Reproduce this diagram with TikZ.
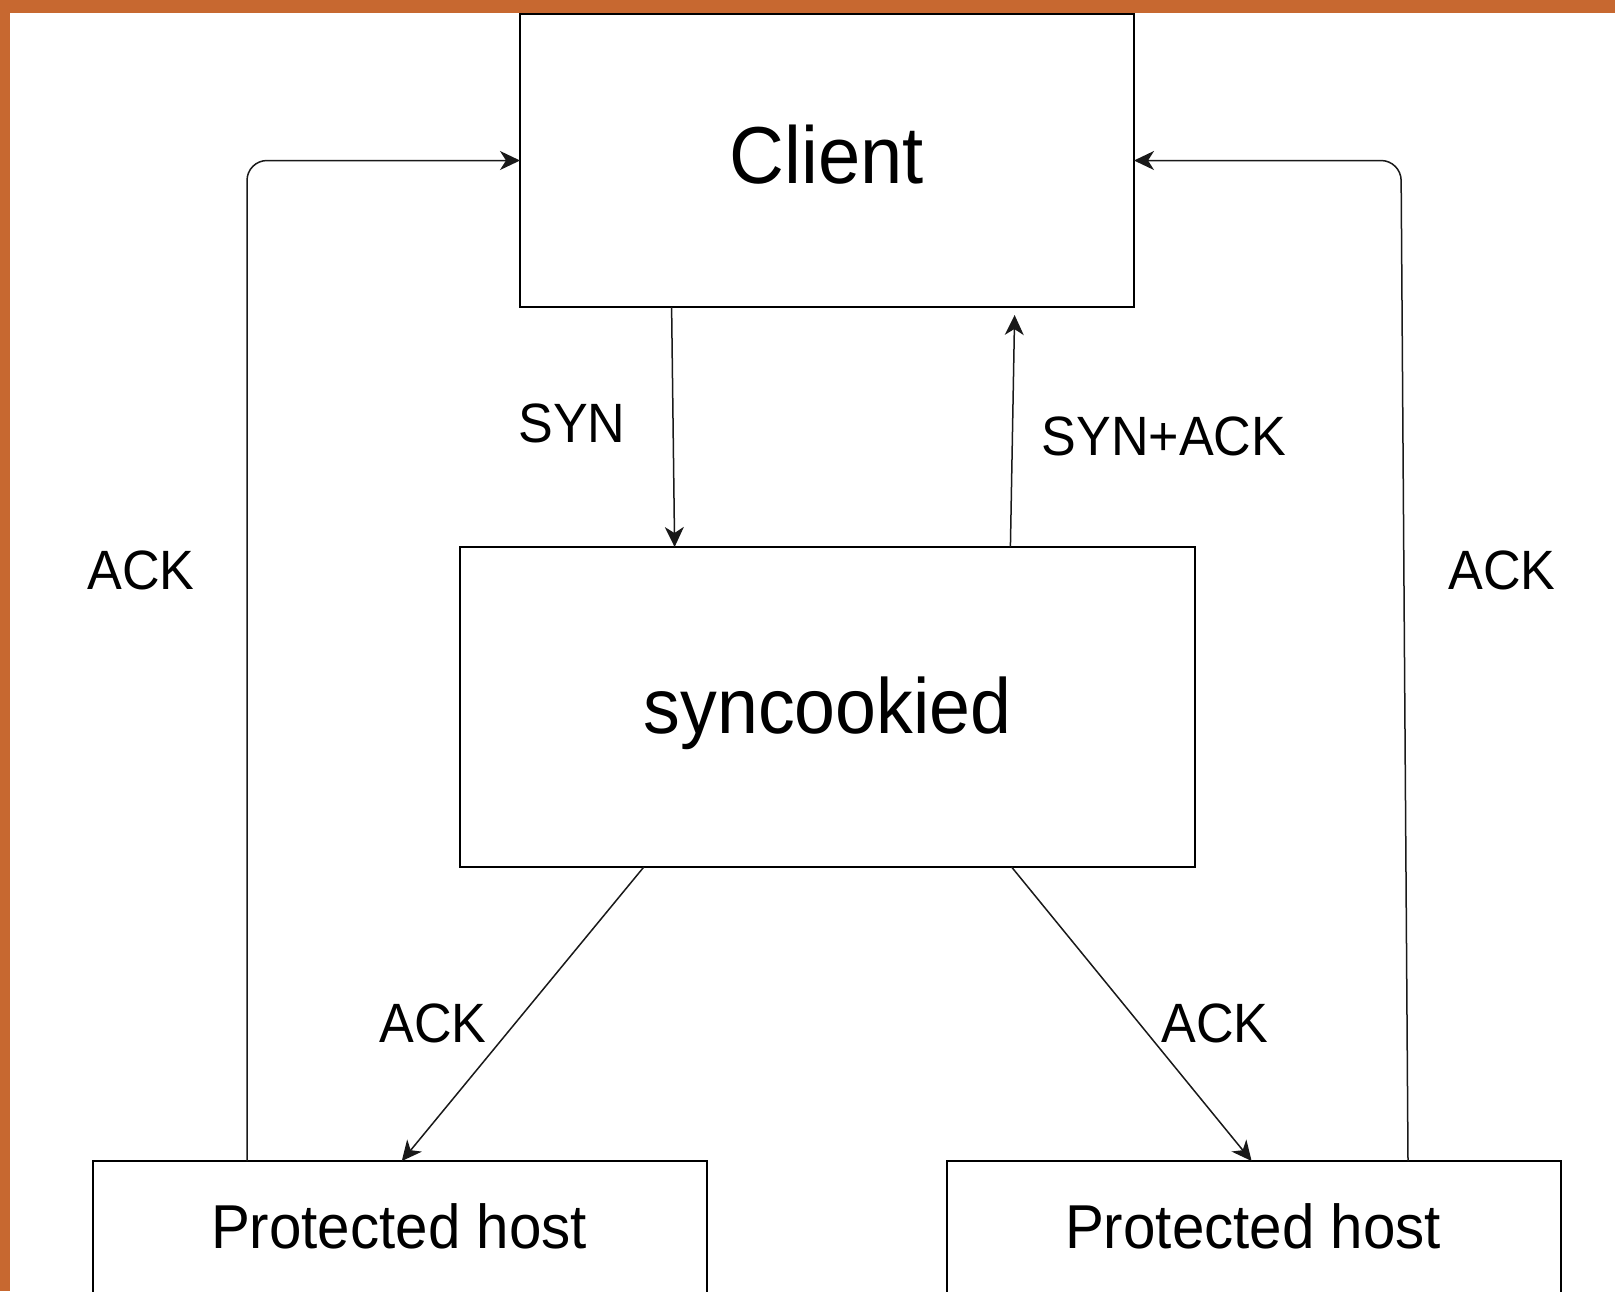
\documentclass[tikz,border=0pt]{standalone}
\usepackage{fontspec}
\setmainfont{Liberation Sans}[FakeStretch=0.94]
\usetikzlibrary{arrows.meta,calc}
\definecolor{frameorange}{RGB}{199,104,48}
\begin{document}
\begin{tikzpicture}[x=0.5pt,y=-0.5pt,
  box/.style={draw=black,line width=0.85pt,fill=white,inner sep=0pt,outer sep=0pt},
  arr/.style={draw=black!90,line width=0.75pt,-{Stealth[length=10pt,width=9.5pt,inset=3pt]}},
  lbl/.style={inner sep=0pt,font=\fontsize{27.7pt}{32pt}\selectfont}]
\useasboundingbox (0,0) rectangle (1615,1291);
\clip (0,0) rectangle (1615,1291);
\fill[white] (0,0) rectangle (1615,1291);
% frame strips
\fill[frameorange] (0,0) rectangle (1615,13);
\fill[frameorange] (0,0) rectangle (10,1291);

% boxes
\node[box,minimum width=307pt,minimum height=146.5pt,
      font=\fontsize{40.4pt}{48pt}\selectfont,text height=29pt,text depth=6pt]
      (client) at (827,160.5) {Client};
\node[box,minimum width=367.5pt,minimum height=160pt,
      font=\fontsize{39.1pt}{46pt}\selectfont,text height=34pt,text depth=8pt]
      (sync) at (827.5,707) {syncookied};
\node[box,minimum width=307pt,minimum height=180pt] (ph1) at (400,1341) {};
\node[box,minimum width=307pt,minimum height=180pt] (ph2) at (1254,1341) {};
\node[inner sep=0pt,font=\fontsize{31pt}{36pt}\selectfont] (ph1t) at (399,1226) {Protected host};
\node[inner sep=0pt,font=\fontsize{31pt}{36pt}\selectfont] (ph2t) at (1253,1226) {Protected host};

% connectors
\draw[arr] ([xshift=75.8pt]client.south west) -- ([xshift=107.3pt]sync.north west);
\draw[arr] ([xshift=275.2pt]sync.north west) -- ([xshift=247.3pt,yshift=-4pt]client.south west);
\draw[arr] ([xshift=91.9pt]sync.south west) -- ([xshift=154.4pt]ph1.north west);
\draw[arr] ([xshift=275.8pt]sync.south west) -- ([xshift=152.3pt]ph2.north west);
\draw[arr,rounded corners=10pt] ([xshift=77pt]ph1.north west) |- (client.west);
\coordinate (rturn) at (1401,160.5);
\draw[arr,rounded corners=10pt] ([xshift=230.5pt]ph2.north west) -- (rturn) -- (client.east);

% labels
\node[lbl] (synl) at (572,423) {SYN};
\node[lbl] (synackl) at (1164,436) {SYN+ACK};
\node[lbl] (ackl) at (141,570) {ACK};
\node[lbl] (ackr) at (1502,570) {ACK};
\node[lbl] (ackdl) at (433,1023) {ACK};
\node[lbl] (ackdr) at (1215,1023) {ACK};
\end{tikzpicture}
\end{document}
